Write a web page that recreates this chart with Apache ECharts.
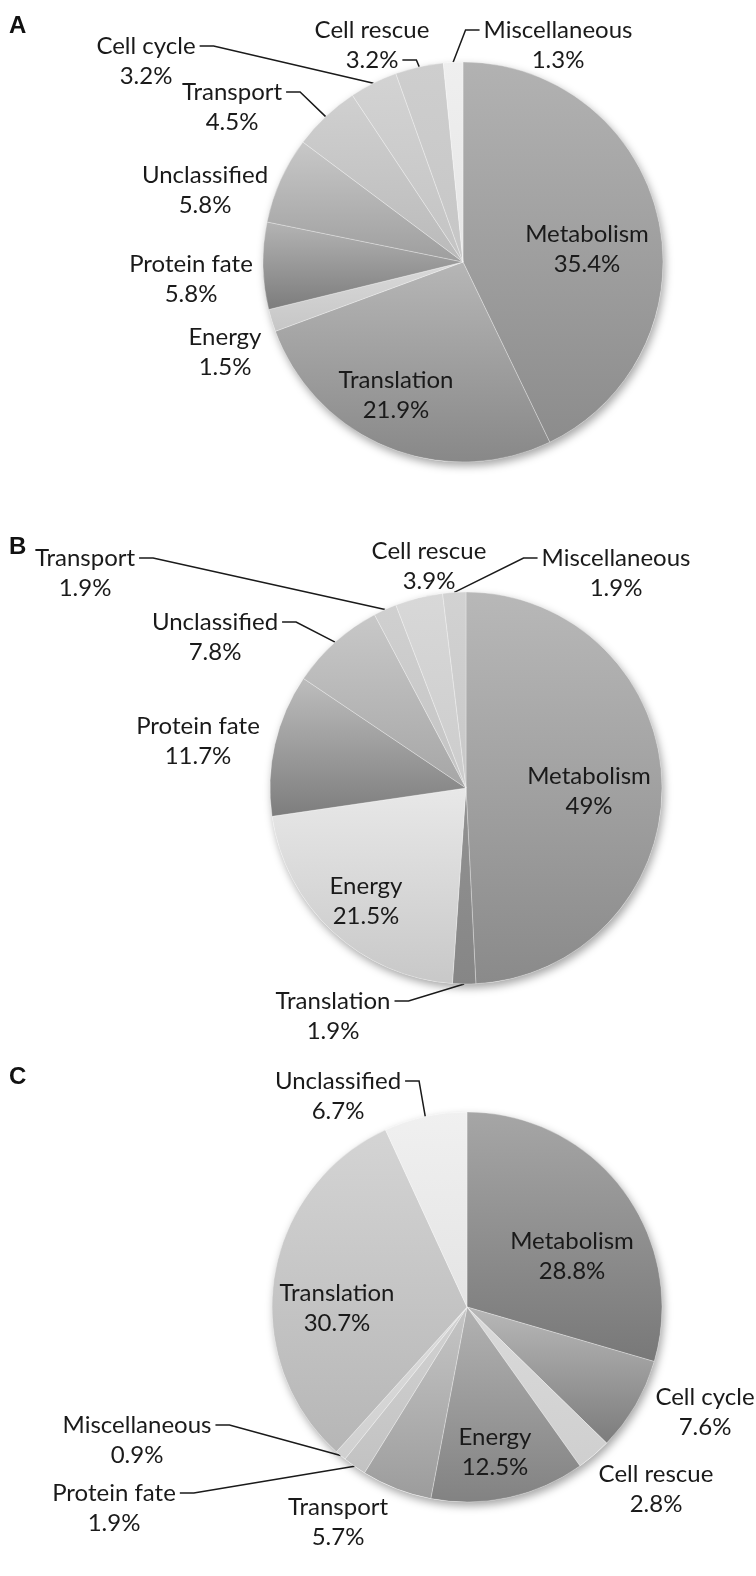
<!DOCTYPE html>
<html>
<head>
<meta charset="utf-8">
<script src="https://cdn.jsdelivr.net/npm/echarts@6/dist/echarts.min.js"></script>
<style>
  html, body { margin: 0; padding: 0; background: #fff; }
  #chart { width: 756px; height: 1576px; }
</style>
</head>
<body>
<div id="chart"></div>
<script>
// panel A
var namesA = ['Metabolism', 'Translation', 'Energy', 'Protein fate', 'Unclassified', 'Transport', 'Cell cycle', 'Cell rescue', 'Miscellaneous'];
var valuesA = [35.4, 21.9, 1.5, 5.8, 5.8, 4.5, 3.2, 3.2, 1.3];
// panel B
var namesB = ['Metabolism', 'Translation', 'Energy', 'Protein fate', 'Unclassified', 'Transport', 'Cell rescue', 'Miscellaneous'];
var valuesB = [49, 1.9, 21.5, 11.7, 7.8, 1.9, 3.9, 1.9];
// panel C
var namesC = ['Metabolism', 'Cell cycle', 'Cell rescue', 'Energy', 'Transport', 'Protein fate', 'Miscellaneous', 'Translation', 'Unclassified'];
var valuesC = [28.8, 7.6, 2.8, 12.5, 5.7, 1.9, 0.9, 30.7, 6.7];
var panelLetters = ['A', 'B', 'C'];

// grey shades per slice, [top, bottom] of the gradient
var shadesA = [['#b2b2b2', '#8c8c8c'], ['#b6b6b6', '#888888'], ['#dadada', '#c6c6c6'], ['#b4b4b4', '#7c7c7c'],
  ['#c8c8c8', '#9e9e9e'], ['#d0d0d0', '#bababa'], ['#d3d3d3', '#c3c3c3'], ['#cecece', '#c6c6c6'], ['#efefef', '#e6e6e6']];
var shadesB = [['#b8b8b8', '#8a8a8a'], ['#929292', '#868686'], ['#e8e8e8', '#c8c8c8'], ['#bdbdbd', '#7d7d7d'],
  ['#c8c8c8', '#a6a6a6'], ['#d0d0d0', '#c4c4c4'], ['#d8d8d8', '#cccccc'], ['#d2d2d2', '#c8c8c8']];
var shadesC = [['#a6a6a6', '#787878'], ['#b8b8b8', '#7c7c7c'], ['#dadada', '#cfcfcf'], ['#b2b2b2', '#828282'],
  ['#c6c6c6', '#9c9c9c'], ['#d2d2d2', '#c2c2c2'], ['#dcdcdc', '#d0d0d0'], ['#d4d4d4', '#b6b6b6'], ['#f0f0f0', '#e4e4e4']];

// label spots relative to the pie centre: [dx, dy, leader]
// leader: side of the text ('r'/'l') + which line the leader leaves from (0/1)
var spotsA = [[124, -13], [-67, 133], [-238, 90], [-272, 17], [-258, -72],
  [-231, -155, 'r0'], [-317, -201, 'r0'], [-91, -217, 'r1'], [95, -217, 'l0']];
var spotsB = [[123, 3], [-133, 228, 'r0'], [-100, 113], [-268, -47], [-251, -151, 'r0'],
  [-381, -215, 'r0'], [-37, -222], [150, -215, 'l0']];
var spotsC = [[105, -51], [238, 105], [189, 182], [28, 145], [-129, 215],
  [-353, 201, 'r0'], [-330, 133, 'r0'], [-130, 1], [-129, -211, 'r0']];

var FONT = 'Lato';
var FS = 24;
var LH = 30;

var panels = [
  { names: namesA, values: valuesA, shades: shadesA, spots: spotsA, center: [463, 262], radius: 200, letterY: 22 },
  { names: namesB, values: valuesB, shades: shadesB, spots: spotsB, center: [466, 788], radius: 196, letterY: 543 },
  { names: namesC, values: valuesC, shades: shadesC, spots: spotsC, center: [467, 1307], radius: 195, letterY: 1073 }
];

var ctx = document.createElement('canvas').getContext('2d');
ctx.font = FS + 'px ' + FONT;
function textWidth(t) {
  return ctx.measureText(t).width;
}

function makeLayout(p) {
  var total = p.values.reduce(function (a, b) { return a + b; }, 0);
  return function (params) {
    var i = params.dataIndex;
    var s = p.spots[i];
    var cx = p.center[0], cy = p.center[1];
    var lx = cx + s[0], ly = cy + s[1];
    var out = { x: lx, y: ly, align: 'center', verticalAlign: 'middle' };
    if (s[2]) {
      var side = s[2][0], row = +s[2][1];
      var lines = [p.names[i], p.values[i] + '%'];
      var w = textWidth(lines[row]);
      var ay = ly + (row - 0.5) * LH;
      var ax = side === 'r' ? lx + w / 2 + 4 : lx - w / 2 - 4;
      var bx = side === 'r' ? ax + 14 : ax - 14;
      var before = 0;
      for (var k = 0; k < i; k++) before += p.values[k];
      var mid = (before + p.values[i] / 2) / total * Math.PI * 2;
      var ex = cx + p.radius * Math.sin(mid), ey = cy - p.radius * Math.cos(mid);
      out.labelLinePoints = [[ex, ey], [bx, ay], [ax, ay]];
    }
    return out;
  };
}

var chart = echarts.init(document.getElementById('chart'));

var series = [];
panels.forEach(function (p) {
  // soft drop shadow under the whole pie
  series.push({
    type: 'pie',
    silent: true,
    z: 1,
    center: p.center,
    radius: p.radius,
    label: { show: false },
    labelLine: { show: false },
    itemStyle: {
      color: '#ffffff',
      shadowBlur: 8,
      shadowOffsetX: 2,
      shadowOffsetY: 4,
      shadowColor: 'rgba(0,0,0,0.35)'
    },
    data: [{ value: 1, name: '' }]
  });
  series.push({
    type: 'pie',
    z: 2,
    center: p.center,
    radius: p.radius,
    startAngle: 90,
    clockwise: true,
    avoidLabelOverlap: false,
    emphasis: { disabled: true },
    label: {
      show: true,
      position: 'outside',
      formatter: '{b}\n{c}%',
      fontFamily: FONT,
      fontSize: FS,
      lineHeight: LH,
      color: '#1a1a1a'
    },
    labelLine: {
      lineStyle: { color: '#1a1a1a', width: 1.5 }
    },
    labelLayout: makeLayout(p),
    data: p.names.map(function (n, i) {
      return {
        name: n,
        value: p.values[i],
        labelLine: { show: !!p.spots[i][2] },
        itemStyle: {
          borderColor: 'rgba(255,255,255,0.35)',
          borderWidth: 0.8,
          color: {
            type: 'linear', x: 0, y: 0, x2: 0, y2: 1,
            colorStops: [
              { offset: 0, color: p.shades[i][0] },
              { offset: 1, color: p.shades[i][1] }
            ]
          }
        }
      };
    })
  });
});

chart.setOption({
  animation: false,
  backgroundColor: '#ffffff',
  title: panels.map(function (p, k) {
    return {
      text: panelLetters[k],
      left: 4,
      top: p.letterY - 13,
      textStyle: { fontFamily: 'Liberation Sans', fontWeight: 'bold', fontSize: 24, color: '#111' }
    };
  }),
  series: series
});
</script>
</body>
</html>
